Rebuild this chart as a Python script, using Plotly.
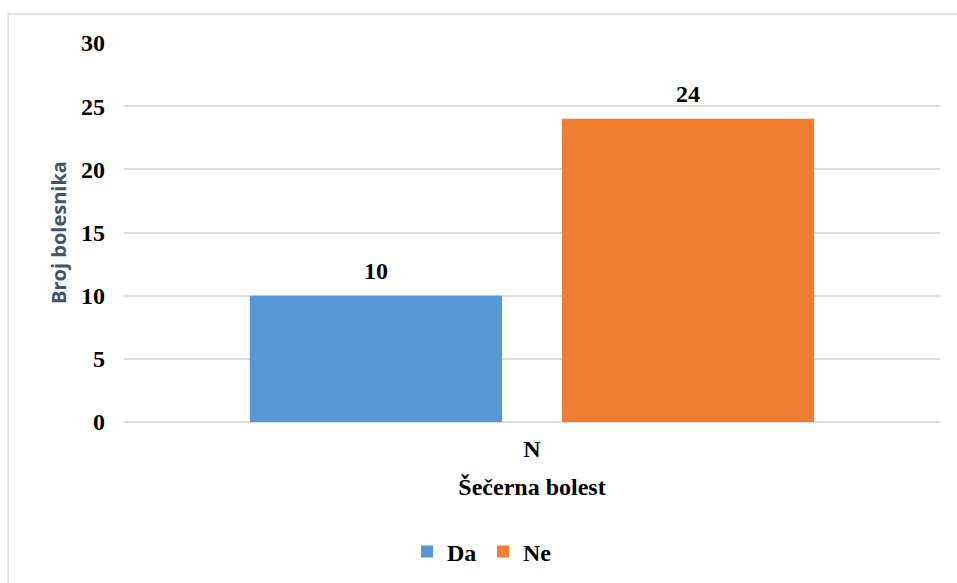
import plotly.graph_objects as go

# Patients with / without diabetes
categories = ["N"]
series_names = ["Da", "Ne"]
series_values = [[10], [24]]
series_colors = ["#5698D5", "#EF7E33"]
y_ticks = [0, 5, 10, 15, 20, 25, 30]

W, H = 957, 583
M = dict(l=124, r=17, t=43, b=161, autoexpand=False)
BARGAP, GROUPGAP = 0.235, 0.192

serif_bold = dict(family="Liberation Serif", size=24, color="#000000", weight="bold")

fig = go.Figure()
for name, vals, col in zip(series_names, series_values, series_colors):
    fig.add_trace(go.Bar(
        x=categories, y=vals, name=name,
        marker=dict(color=col, line=dict(width=0)),
    ))

# value labels above each bar, centred on its slot within the group
plot_w = W - M["l"] - M["r"]
slot = plot_w * (1 - BARGAP) / len(series_names)
annotations = []
for i, vals in enumerate(series_values):
    for cat, v in zip(categories, vals):
        annotations.append(dict(
            x=cat, y=v, xref="x", yref="y", text=str(v), showarrow=False,
            xshift=(i - (len(series_names) - 1) / 2) * slot,
            yanchor="bottom", yshift=10, font=serif_bold,
        ))

fig.update_layout(
    width=W, height=H, margin=M,
    paper_bgcolor="white", plot_bgcolor="white",
    barmode="group", bargap=BARGAP, bargroupgap=GROUPGAP,
    showlegend=True,
    legend=dict(orientation="h", x=0.44, xanchor="center", y=-0.343, yanchor="middle",
                font=serif_bold, itemwidth=30, entrywidth=31, traceorder="normal"),
    xaxis=dict(
        showgrid=False, zeroline=False, showline=False, ticks="", automargin=False,
        tickfont=serif_bold, ticklabelstandoff=10,
        title=dict(text="Šečerna bolest", font=serif_bold, standoff=17),
    ),
    yaxis=dict(
        range=[0, 30], tickvals=y_ticks, showgrid=True, gridcolor="#D9DDE3", gridwidth=1.5,
        zeroline=True, zerolinecolor="#D9DDE3", zerolinewidth=1.5, showline=False,
        automargin=False, tickfont=serif_bold, ticklabelstandoff=18,
        title=dict(text="Broj bolesnika", standoff=9,
                   font=dict(family="Open Sans", size=20, color="#44546A", weight="bold")),
    ),
    annotations=annotations,
    shapes=[dict(type="rect", xref="paper", yref="paper",
                 x0=-0.142, x1=1.03, y0=-0.45, y1=1.0765,
                 line=dict(color="#D9DCE1", width=1.5), fillcolor="rgba(0,0,0,0)", layer="below")],
)

fig.write_html("out.html")
